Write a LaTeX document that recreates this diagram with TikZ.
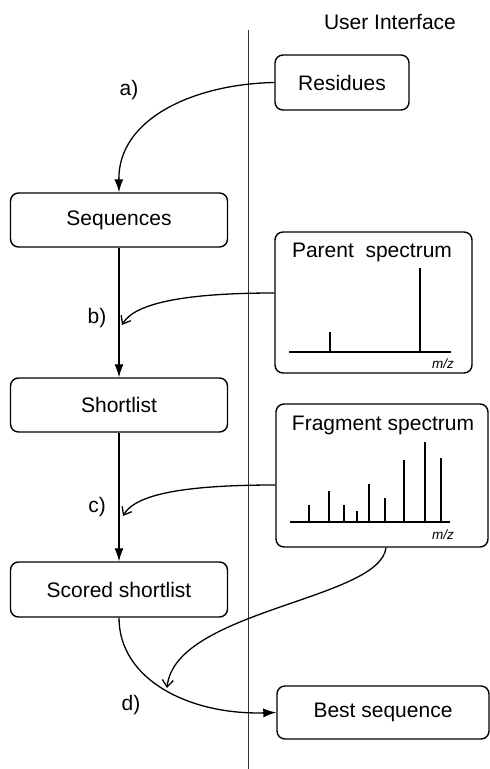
\documentclass[tikz,border=0pt]{standalone}
\usepackage{fontspec}
\setmainfont{Liberation Sans}
\usetikzlibrary{shapes,arrows.meta}

\begin{document}
\begin{tikzpicture}[x=1pt, y=-1pt,
  box/.style={shape=rectangle, rounded corners=8pt, draw, line width=1.4pt, font=\fontsize{21}{25}\selectfont},
  lbl/.style={font=\fontsize{21}{25}\selectfont},
  mz/.style={font=\fontsize{13.5}{16}\selectfont\itshape},
  flow/.style={-{Latex[length=13pt,width=9pt]}, line width=1.3pt},
  feed/.style={-{Straight Barb[length=7pt,width=11pt]}, line width=1.3pt},
  peak/.style={line width=1.3pt}]
\useasboundingbox (0,0) rectangle (490,769);

% divider
\draw [line width=0.7pt, black!80] (248,30) -- (248,769);
\node (ui) at (390,22) [lbl]{User Interface};

\node (a) at (342,82.5) [box, minimum width=134, minimum height=55]{Residues};
\node (b) at (119,220) [box, minimum width=217, minimum height=54]{Sequences};
\node (c) at (119,405) [box, minimum width=217, minimum height=54]{Shortlist};
\node (d) at (119,589.5) [box, minimum width=217, minimum height=55]{Scored shortlist};
\node (e) at (383,712.5) [box, minimum width=212, minimum height=53]{Best sequence};

% spectra
\node (p) at (373.5,302.5) [box, minimum width=197, minimum height=141]{};
\node (pt) at (372,252) [lbl]{Parent\ \ spectrum};
\node (pm) at (443,364) [mz]{m/z};
\draw [peak] (289,352) -- (451,352);
\foreach \x/\y in {330/332, 420/268}
  \draw [peak] (\x,352) -- (\x,\y);

\node (f) at (382,475.5) [box, minimum width=212, minimum height=143]{};
\node (ft) at (383,425) [lbl]{Fragment spectrum};
\node (fm) at (443,535) [mz]{m/z};
\draw [peak] (290,522) -- (450,522);
\foreach \x/\y in {309/505, 329/491, 344/505, 357/511, 369/484, 385/498, 404/460, 425/442, 441/458}
  \draw [peak] (\x,522) -- (\x,\y);

% steps
\node (la) at (129,90) [lbl]{a)};
\node (lb) at (97,318) [lbl]{b)};
\node (lc) at (97,507) [lbl]{c)};
\node (ld) at (131,705) [lbl]{d)};

\coordinate (bb) at (122,325);
\coordinate (cc) at (123,516);
\coordinate (dd) at (167,688);

\draw [flow] (a.west) .. controls (195,84) and (118,118) .. (b.north);
\draw [flow] (b) -- (c);
\draw [flow] (c) -- (d);
\draw [flow] (d.south) .. controls (119,680) and (190,715) .. (e.west);

\draw [feed] ([yshift=9.5pt]p.west) .. controls (190,293) and (135,302) .. (bb);
\draw [feed] ([yshift=-9.5pt]f.west) .. controls (190,485) and (136,493) .. (cc);
\draw [feed] ([xshift=4pt]f.south) .. controls (380,600) and (175,610) .. (dd);
\end{tikzpicture}
\end{document}
